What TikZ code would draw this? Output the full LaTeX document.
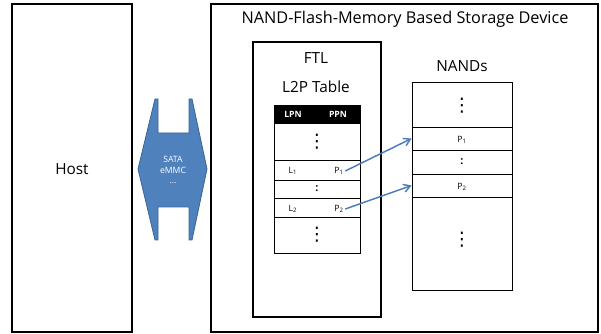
\documentclass[tikz,border=0pt]{standalone}
\usepackage{fontspec}
\setmainfont{Open Sans}
\newfontfamily\symfont{DejaVu Sans}
\usepackage{xcolor}
\usetikzlibrary{arrows.meta}

\definecolor{ifblue}{HTML}{4F81BD}
\definecolor{ifedge}{HTML}{3A6595}
\definecolor{mapblue}{HTML}{4A7EBB}

\tikzset{
    outerbox/.style={draw=black,line width=1.3pt},
    innerbox/.style={draw=black,line width=0.8pt},
    cell/.style={draw=black,line width=0.6pt,minimum width=75pt,inner sep=0pt},
    tcell/.style={draw=black,line width=0.6pt,minimum width=64.5pt,inner sep=0pt},
    small/.style={font=\fontsize{6.5}{7}\selectfont,inner sep=1pt},
    big/.style={font=\fontsize{11.5}{13}\selectfont},
    dots/.style={font=\symfont\fontsize{14}{14}\selectfont,inner sep=0pt},
    map/.style={-{Straight Barb[length=5pt,width=6pt]},mapblue,line width=1.1pt}
}

\begin{document}
\begin{tikzpicture}[x=0.75pt,y=-0.75pt]
        \useasboundingbox (0,0) rectangle (601,334);

        % host side
        \draw[outerbox] (12,4) rectangle (132,332);
        \node[big] (host) at (72,169) {Host};

        % interface
        \draw[fill=ifblue,draw=ifedge,line width=0.6pt]
            (138,169) -- (155,99) -- (158,99) -- (158,133) -- (189,133)
            -- (189,99) -- (192,99) -- (207,169) -- (192,240) -- (189,240)
            -- (189,207) -- (158,207) -- (158,240) -- (155,240) -- cycle;
        \node[white,font=\fontsize{6.5}{8}\selectfont,align=center,inner sep=0pt] (iface) at (173,170)
            {SATA\\eMMC\\...};

        % storage device
        \draw[outerbox] (211,4) rectangle (598,332);
        \node[big,font=\fontsize{12.2}{14}\selectfont] (title) at (405,19) {NAND-Flash-Memory Based Storage Device};

        % FTL with L2P table
        \draw[innerbox] (253,42) rectangle (381,317);
        \node[big] (ftl) at (316,58) {FTL};
        \node[big] (l2p) at (316,87) {L2P Table};

        \node[tcell,fill=black,minimum height=13.5pt] (head) at (317,114) {};
        \node[small,white,font=\bfseries\fontsize{6.5}{7}\selectfont] (lpn) at (293,114) {LPN};
        \node[small,white,font=\bfseries\fontsize{6.5}{7}\selectfont] (ppn) at (338,114) {PPN};
        \node[tcell,minimum height=27.75pt] (t0) at (317,141.5) {};
        \node[tcell,minimum height=15pt] (t1) at (317,170) {};
        \node[tcell,minimum height=13.5pt] (t2) at (317,189) {};
        \node[tcell,minimum height=14.25pt] (t3) at (317,207.5) {};
        \node[tcell,minimum height=27pt] (t4) at (317,235) {};
        \node[dots] (d0) at (317,142) {⋮};
        \node[small,font=\bfseries\fontsize{8}{8}\selectfont] (c0) at (317,189) {:};
        \node[dots] (d1) at (317,235) {⋮};
        \node[small] (l1) at (293,171) {L\textsubscript{1}};
        \node[small] (p1) at (339,171) {P\textsubscript{1}};
        \node[small] (l2) at (293,209) {L\textsubscript{2}};
        \node[small] (p2) at (339,209) {P\textsubscript{2}};

        % NAND pages
        \node[big] (nands) at (462,66) {NANDs};
        \node[cell,minimum height=33.75pt] (n0) at (462,104.5) {};
        \node[cell,minimum height=17.25pt] (n1) at (462,138.5) {};
        \node[cell,minimum height=18pt] (n2) at (462,162) {};
        \node[cell,minimum height=17.25pt] (n3) at (462,185.5) {};
        \node[cell,minimum height=69.75pt] (n4) at (462,243.5) {};
        \node[dots] (d2) at (462,106) {⋮};
        \node[small] (q1) at (462,140) {P\textsubscript{1}};
        \node[small,font=\bfseries\fontsize{8}{8}\selectfont] (c1) at (462,162) {:};
        \node[small] (q2) at (462,187) {P\textsubscript{2}};
        \node[dots] (d3) at (462,240) {⋮};

        % mapping
        \draw[map] (p1.east) -- (n1.west);
        \draw[map] (p2.east) -- (n3.west);
    \end{tikzpicture}
\end{document}
